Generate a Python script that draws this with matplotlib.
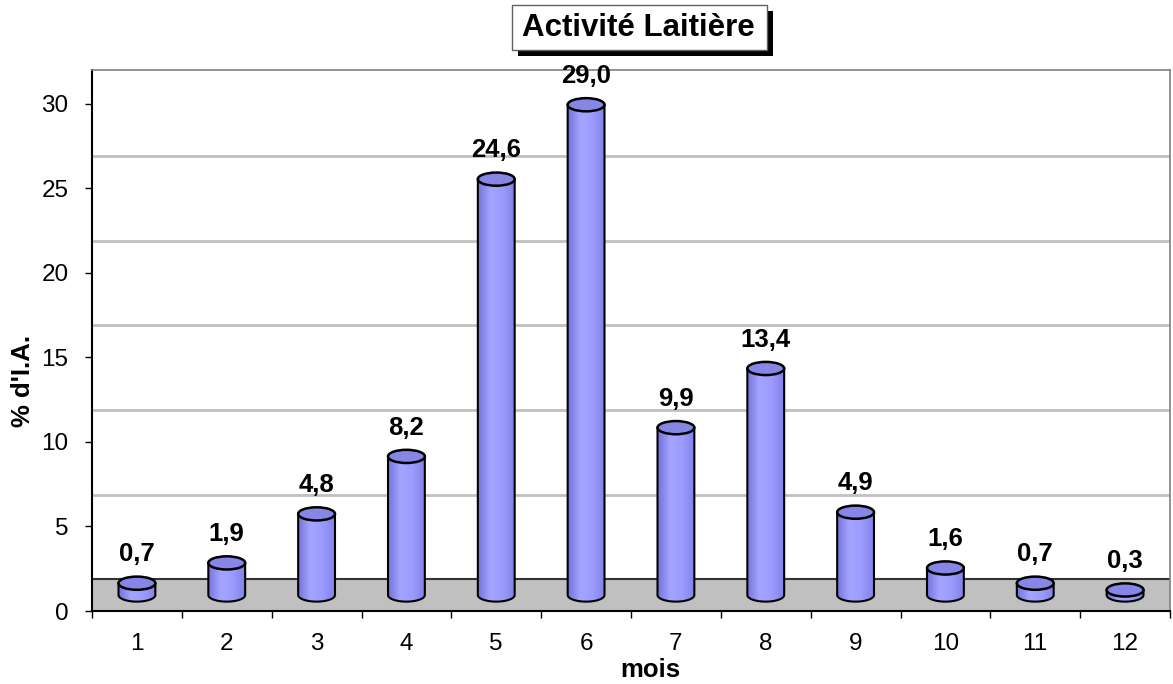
import numpy as np
import matplotlib.pyplot as plt
from matplotlib.patches import Ellipse, Polygon, Rectangle
from matplotlib.colors import LinearSegmentedColormap

plt.rcParams['font.family'] = ['Liberation Sans', 'DejaVu Sans']

months = ['1', '2', '3', '4', '5', '6', '7', '8', '9', '10', '11', '12']
values = [0.7, 1.9, 4.8, 8.2, 24.6, 29.0, 9.9, 13.4, 4.9, 1.6, 0.7, 0.3]
yticks = [0, 5, 10, 15, 20, 25, 30]

depth = 1.89      # floor depth, in y units
half = depth / 2  # cylinders stand in the middle of the floor
rad = 0.205       # cylinder radius (x units)
ell_h = 0.39      # ellipse half height (y units)

fig = plt.figure(figsize=(11.73, 6.84), dpi=100)
ax = fig.add_axes([92 / 1173, 1 - 611 / 684, 1078 / 1173, 541 / 684])
ax.set_xlim(0, 12)
ax.set_ylim(0, 32)

# floor and back wall grid
ax.add_patch(Rectangle((0, 0), 12, depth, facecolor='#c0c0c0', edgecolor='none', zorder=1))
ax.plot([0, 12], [depth, depth], color='#333333', lw=1.5, zorder=2)
for v in yticks[1:-1]:
    ax.plot([0, 12], [v + depth, v + depth], color='#c0c0c0', lw=2, zorder=0.5)

cmap = LinearSegmentedColormap.from_list('cyl', ['#7474dc', '#a4a4ff', '#9c9cff', '#8282e8'])
grad = np.linspace(0, 1, 64).reshape(1, -1)

for i, v in enumerate(values):
    cx = i + 0.5
    yb = half
    yt = half + v
    t = np.linspace(np.pi, 2 * np.pi, 60)
    pts = [(cx - rad, yt)] + list(zip(cx + rad * np.cos(t), yb + ell_h * np.sin(t))) + [(cx + rad, yt)]
    body = Polygon(pts, closed=True, facecolor='none', edgecolor='black', lw=1.5, zorder=4)
    ax.add_patch(body)
    im = ax.imshow(grad, cmap=cmap, extent=(cx - rad, cx + rad, yb - ell_h, yt),
                   aspect='auto', zorder=3, interpolation='bilinear')
    im.set_clip_path(body)
    ax.add_patch(Ellipse((cx, yt), 2 * rad, 2 * ell_h, facecolor='#8686e6',
                         edgecolor='black', lw=1.8, zorder=5))
    ax.text(cx, yt + 1.7, ('%.1f' % v).replace('.', ','), ha='center', va='center',
            fontsize=18.5, fontweight='bold', zorder=6)

ax.set_xlim(0, 12)
ax.set_ylim(0, 32)

ax.set_yticks(yticks)
ax.tick_params(axis='y', labelsize=17.5, length=5, width=1, direction='out', pad=12)
ax.set_xticks(np.arange(0, 13))
ax.set_xticklabels([])
ax.set_xticks(np.arange(12) + 0.5, minor=True)
ax.set_xticklabels(months, minor=True)
ax.tick_params(axis='x', which='major', length=5, width=1, direction='out')
ax.tick_params(axis='x', which='minor', length=0, labelsize=17.5, pad=16)

for s in ['left', 'bottom']:
    ax.spines[s].set_color('black')
    ax.spines[s].set_linewidth(1.5)
for s in ['top', 'right']:
    ax.spines[s].set_color('#808080')
    ax.spines[s].set_linewidth(1.2)

ax.set_xlabel('mois', fontsize=18.5, fontweight='bold', va='center')
ax.xaxis.set_label_coords(0.518, -0.109)
ax.set_ylabel("% d'I.A.", fontsize=18.5, fontweight='bold', va='center')
ax.yaxis.set_label_coords(-0.064, 0.425)

# title box with drop shadow
x0, x1, y0, y1 = 512 / 1173, 767 / 1173, 1 - 50 / 684, 1 - 5 / 684
fig.add_artist(Rectangle((x0 + 6 / 1173, y0 - 6 / 684), x1 - x0, y1 - y0,
                         transform=fig.transFigure, facecolor='black', edgecolor='none'))
fig.add_artist(Rectangle((x0, y0), x1 - x0, y1 - y0, transform=fig.transFigure,
                         facecolor='white', edgecolor='#606060', lw=1))
fig.text(638 / 1173, 1 - 28 / 684, 'Activité Laitière', ha='center', va='center',
         fontsize=22.5, fontweight='bold')

fig.savefig('out.png', dpi=100)
